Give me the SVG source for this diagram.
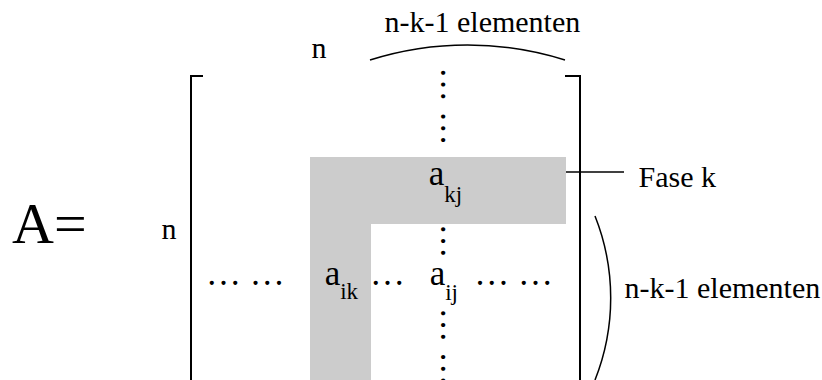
<svg xmlns="http://www.w3.org/2000/svg" width="822" height="380" viewBox="0 0 822 380">
<style>
  .t { font-family: 'Liberation Serif', 'Times New Roman', serif; fill: #000000; }
  .lbl { font-size: 30px; }
  .math { font-size: 35px; }
  .sub { font-size: 23px; }
  .big { font-size: 58px; }
  .br { fill: none; stroke: #000000; stroke-width: 2; }
  .arc { fill: none; stroke: #000000; stroke-width: 1.5; }
  .ln { fill: none; stroke: #000000; stroke-width: 1.3; }
  .hl { fill: #cccccc; }
</style>
<rect width="822" height="380" fill="#ffffff"/>
<g id="highlight">
  <path class="hl" d="M310,157 H566 V224 H371 V380 H310 Z"/>
</g>
<g id="matrix">
  <path class="br" d="M203,76 H191 V381"/>
  <path class="br" d="M565,76 H580 V381"/>
</g>
<g id="lhs">
  <text class="t big" x="12" y="243">A=</text>
</g>
<g id="entries">
  <text class="t math" x="428.7" y="185">a<tspan class="sub" dy="16.5">kj</tspan></text>
  <text class="t math" x="324.7" y="285">a<tspan class="sub" dy="14">ik</tspan></text>
  <text class="t math" x="429.7" y="285">a<tspan class="sub" dy="15">ij</tspan></text>
  <text class="t math" x="205.9" y="285">… …</text>
  <text class="t math" x="369.9" y="285">…</text>
  <text class="t math" x="474.2" y="285">… …</text>
  <text class="t math" transform="translate(441,66.9) rotate(90)">… …</text>
  <text class="t math" transform="translate(441,223.5) rotate(90)">…</text>
  <text class="t math" transform="translate(441,307.5) rotate(90)">… …</text>
</g>
<g id="labels">
  <text class="t lbl" x="311.5" y="58">n</text>
  <text class="t lbl" x="161.5" y="239">n</text>
  <text class="t lbl" x="384.5" y="31.5">n-k-1 elementen</text>
  <text class="t lbl" x="624.5" y="298">n-k-1 elementen</text>
  <text class="t lbl" x="638.6" y="186.7">Fase k</text>
</g>
<g id="connectors">
  <path class="arc" d="M370,60 A324,324 0 0 1 565,60"/>
  <path class="arc" d="M595,216 A222,222 0 0 1 595,380"/>
  <path class="ln" d="M566,172 H624"/>
</g>
</svg>
